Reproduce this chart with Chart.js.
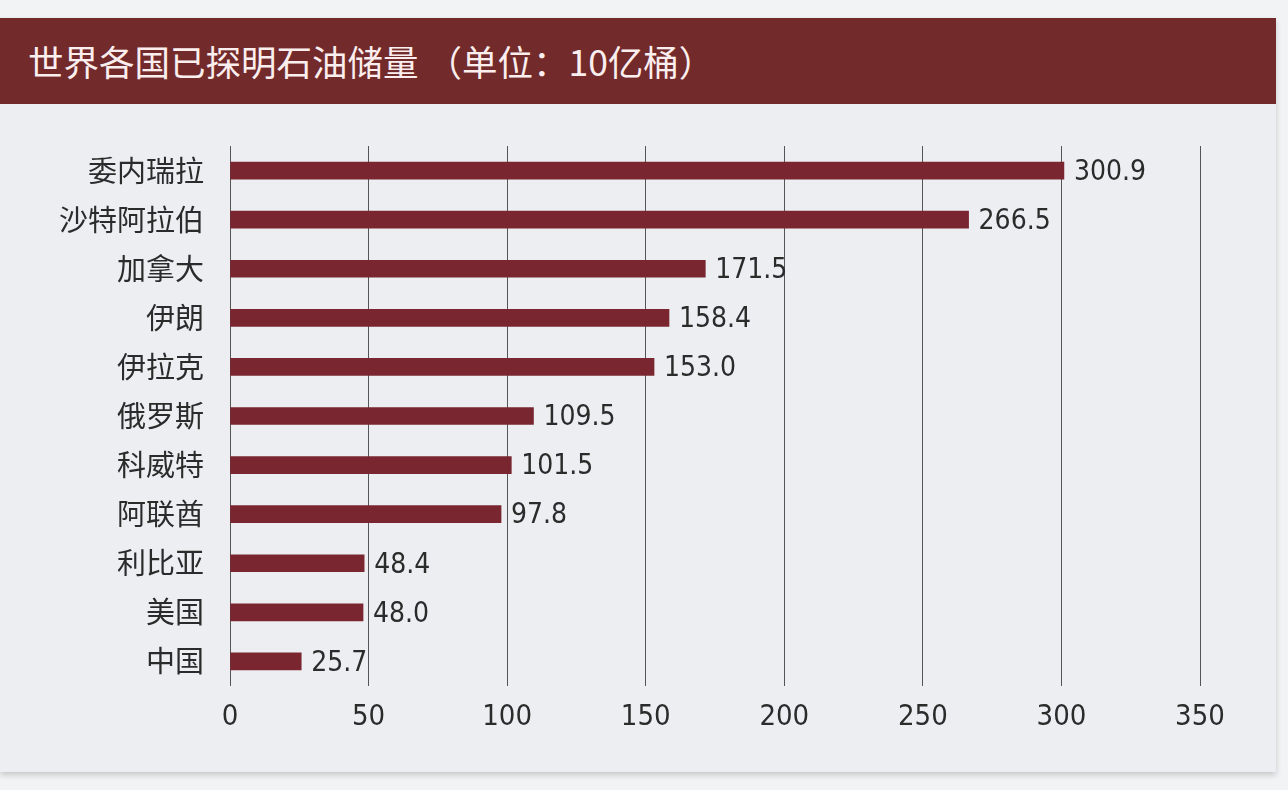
<!DOCTYPE html>
<html lang="zh">
<head>
<meta charset="utf-8">
<title>世界各国已探明石油储量</title>
<script src="https://cdn.jsdelivr.net/npm/chart.js@4.4.1/dist/chart.umd.min.js"></script>
<style>
  html, body { margin: 0; padding: 0; }
  body { width: 1288px; height: 790px; background: #f2f3f5; position: relative; overflow: hidden; font-family: "Noto Sans CJK SC", sans-serif; }
  .card { position: absolute; left: 0; top: 18px; width: 1276px; height: 754px; background: #eceef1; box-shadow: 0 3px 6px rgba(0,0,0,0.18); }
  .titulo { position: absolute; left: 0; top: 18px; width: 1276px; height: 86px; background: #732a2b; color: #fbeeee; font-size: 35.5px; line-height: 86px; padding-left: 28px; box-sizing: border-box; }
  #grafico { position: absolute; left: 0; top: 0; }
</style>
</head>
<body>
<div class="card"></div>
<div class="titulo">世界各国已探明石油储量 （单位：10亿桶）</div>
<canvas id="grafico" width="1288" height="790"></canvas>
<script>
// dados
const paises = ["委内瑞拉", "沙特阿拉伯", "加拿大", "伊朗", "伊拉克", "俄罗斯", "科威特", "阿联酋", "利比亚", "美国", "中国"];
const reservas = [300.9, 266.5, 171.5, 158.4, 153.0, 109.5, 101.5, 97.8, 48.4, 48.0, 25.7];
const ticksX = [0, 50, 100, 150, 200, 250, 300, 350];

const corBarra = "#7a2630";
const corTexto = "#2b2b2b";
const fonteNum = "'DejaVu Sans Condensed', 'Liberation Sans Narrow', 'Noto Sans', sans-serif";

// rotulos de valor no fim das barras
const rotulos = {
  id: "rotulos",
  afterDatasetsDraw(chart) {
    const ctx = chart.ctx;
    const meta = chart.getDatasetMeta(0);
    ctx.save();
    ctx.font = "28px " + fonteNum;
    ctx.fillStyle = corTexto;
    ctx.textAlign = "left";
    ctx.textBaseline = "middle";
    meta.data.forEach((bar, i) => {
      ctx.fillText(reservas[i].toFixed(1), bar.x + 10, bar.y + 2);
    });
    ctx.restore();
  }
};

new Chart(document.getElementById("grafico"), {
  type: "bar",
  data: {
    labels: paises,
    datasets: [{ data: reservas, backgroundColor: corBarra, borderWidth: 0, barThickness: 17 }]
  },
  options: {
    indexAxis: "y",
    responsive: false,
    animation: false,
    layout: { padding: { top: 146, right: 88, left: 0, bottom: 0 } },
    plugins: { legend: { display: false }, tooltip: { enabled: false } },
    scales: {
      x: {
        min: 0, max: 350,
        afterBuildTicks: (s) => { s.ticks = ticksX.map((v) => ({ value: v })); },
        afterFit: (s) => { s.height = 104; },
        grid: { color: "#555", lineWidth: 1, drawTicks: false },
        border: { display: false },
        ticks: { padding: 14, color: corTexto, font: { size: 29, family: fonteNum } }
      },
      y: {
        afterFit: (s) => { s.width = 230; },
        grid: { display: false },
        border: { display: false },
        ticks: { padding: 18, color: corTexto, font: { size: 29, family: "'Noto Sans CJK SC', sans-serif" } }
      }
    }
  },
  plugins: [rotulos]
});
</script>
</body>
</html>
